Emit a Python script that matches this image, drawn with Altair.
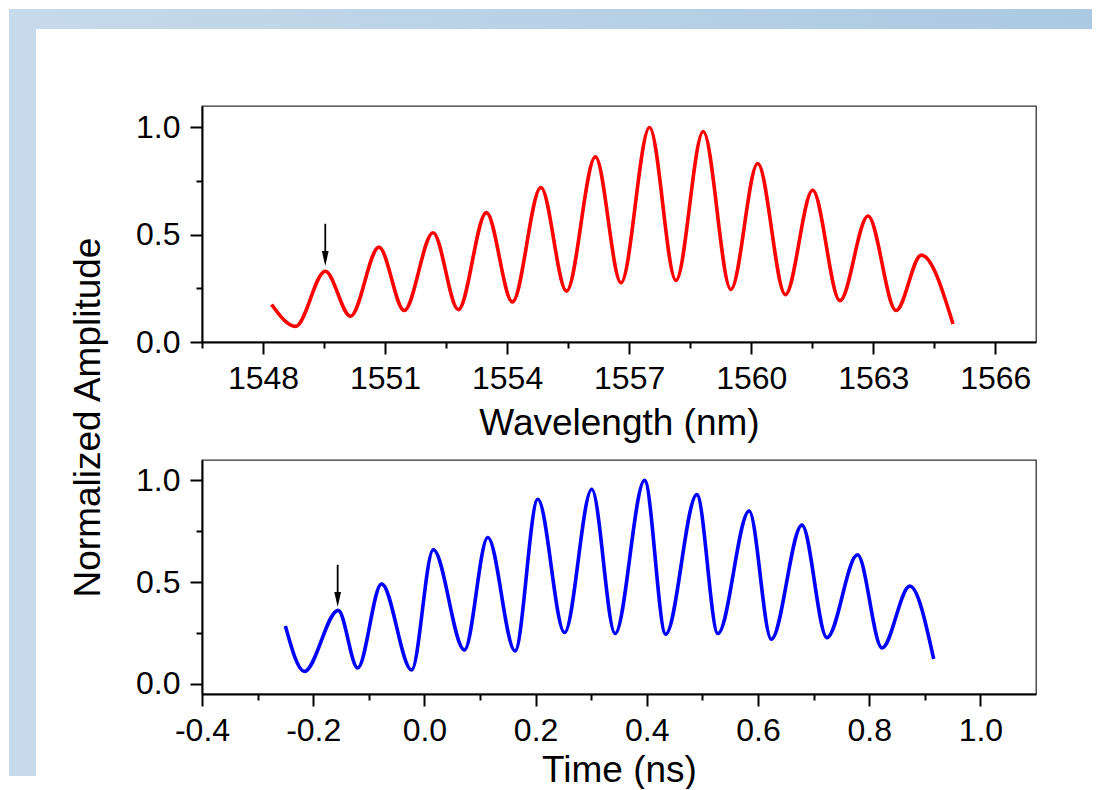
import altair as alt
import pandas as pd

# ---------------- data ----------------
# Top panel: optical spectrum (extrema + end points of the trace)
wl_nm = [1548.21, 1548.80, 1549.53, 1550.15, 1550.85, 1551.47, 1552.18, 1552.80,
         1553.49, 1554.13, 1554.83, 1555.46, 1556.17, 1556.80, 1557.50, 1558.15,
         1558.82, 1559.50, 1560.16, 1560.84, 1561.51, 1562.18, 1562.87, 1563.56,
         1564.18, 1564.96]
wl_amp = [0.175, 0.073, 0.330, 0.120, 0.442, 0.147, 0.509, 0.151,
          0.603, 0.187, 0.720, 0.237, 0.863, 0.276, 1.000, 0.287,
          0.981, 0.245, 0.832, 0.221, 0.707, 0.193, 0.587, 0.147,
          0.405, 0.084]

# Bottom panel: temporal waveform (extrema + end points of the trace)
t_ns = [-0.250, -0.216, -0.155, -0.120, -0.077, -0.023, 0.016, 0.072,
        0.114, 0.163, 0.204, 0.252, 0.301, 0.343, 0.396, 0.434,
        0.490, 0.528, 0.584, 0.624, 0.679, 0.724, 0.779, 0.823,
        0.873, 0.916]
t_amp = [0.284, 0.061, 0.361, 0.078, 0.491, 0.068, 0.659, 0.166,
         0.719, 0.162, 0.907, 0.252, 0.956, 0.247, 1.000, 0.244,
         0.930, 0.247, 0.849, 0.219, 0.780, 0.227, 0.634, 0.176,
         0.480, 0.122]

# Arrow annotations (data coordinates)
arrow_top_x = [1549.53]
arrow_top_from = [0.551]
arrow_top_to = [0.389]
arrow_bot_x = [-0.156]
arrow_bot_from = [0.585]
arrow_bot_to = [0.414]

# Ticks
x_ticks_top = [1546.5, 1548, 1549.5, 1551, 1552.5, 1554, 1555.5, 1557, 1558.5,
               1560, 1561.5, 1563, 1564.5, 1566]
x_ticks_bot = [-0.4, -0.3, -0.2, -0.1, 0.0, 0.1, 0.2, 0.3, 0.4, 0.5, 0.6, 0.7,
               0.8, 0.9, 1.0]
y_ticks = [0.0, 0.25, 0.5, 0.75, 1.0]

FONT = "Liberation Sans, Arial, sans-serif"
W = 834
H_TOP = 236
H_BOT = 234

df_top = pd.DataFrame({"x": wl_nm, "y": wl_amp})
df_bot = pd.DataFrame({"x": t_ns, "y": t_amp})
arr_top = pd.DataFrame({"x": arrow_top_x, "y": arrow_top_from, "y2": arrow_top_to})
arr_bot = pd.DataFrame({"x": arrow_bot_x, "y": arrow_bot_from, "y2": arrow_bot_to})
bg = pd.DataFrame({"k": [0]})

y_major = "round(datum.value*4) % 2 == 0"


def y_axis(title=None):
    kw = dict(
        values=y_ticks,
        labelExpr="(" + y_major + ") ? format(datum.value, '.1f') : ''",
        tickSize={"condition": {"test": y_major, "value": 12}, "value": 6},
        labelPadding=10,
        labelFlush=False,
        labelOverlap=False,
        zindex=1,
    )
    if title:
        kw.update(title=title, titleX=-114, titleY=311, titleAngle=270,
                  titleAlign="center", titleBaseline="middle")
    else:
        kw.update(title=None)
    return alt.Axis(**kw)


top_major = "datum.value % 3 == 0"
x_axis_top = alt.Axis(
    values=x_ticks_top,
    labelExpr="(" + top_major + ") ? format(datum.value, 'd') : ''",
    tickSize={"condition": {"test": top_major, "value": 12}, "value": 6},
    labelPadding=9, labelFlush=False, labelOverlap=False, zindex=1,
    title="Wavelength (nm)", titleY=81, titleBaseline="middle",
)

bot_major = "round(datum.value*10) % 2 == 0"
x_axis_bot = alt.Axis(
    values=x_ticks_bot,
    labelExpr="(" + bot_major + ") ? replace(format(datum.value, '.1f'), '\u2212', '-') : ''",
    tickSize={"condition": {"test": bot_major, "value": 12}, "value": 6},
    labelPadding=9, labelFlush=False, labelOverlap=False, zindex=1,
    title="Time (ns)", titleY=76, titleBaseline="middle",
)

y_axis_top = y_axis("Normalized Amplitude")
y_axis_bot = y_axis(None)

# Blue frame of the slide around the white figure area (decoration only)
grad = alt.LinearGradient(
    gradient="linear",
    stops=[alt.GradientStop(color="#c6daeb", offset=0),
           alt.GradientStop(color="#abc9e2", offset=1)],
    x1=0, x2=1, y1=0, y2=0,
)
band_top = alt.Chart(bg).mark_rect(color=grad).encode(
    x=alt.value(-193), x2=alt.value(890), y=alt.value(-97), y2=alt.value(-77))
band_left = alt.Chart(bg).mark_rect(color="#c6daeb").encode(
    x=alt.value(-193), x2=alt.value(-166), y=alt.value(-77), y2=alt.value(670))

arrow_shape = "M-0.45,-1L0.45,-1L0,1Z"

# ---------------- top panel ----------------
sx_top = alt.Scale(domain=[1546.5, 1567], nice=False, zero=False)
sy_top = alt.Scale(domain=[0, 1.1], nice=False, zero=False)

line_top = alt.Chart(df_top).mark_line(
    color="#ff0000", strokeWidth=3.6, interpolate="monotone"
).encode(
    x=alt.X("x:Q", scale=sx_top, axis=x_axis_top),
    y=alt.Y("y:Q", scale=sy_top, axis=y_axis_top),
)
rule_top = alt.Chart(arr_top).mark_rule(color="black", strokeWidth=1.8).encode(
    x=alt.X("x:Q", scale=sx_top, axis=x_axis_top),
    y=alt.Y("y:Q", scale=sy_top, axis=y_axis_top),
    y2="y2:Q")
head_top = alt.Chart(arr_top).mark_point(
    shape=arrow_shape, filled=True, size=225, color="black", opacity=1, strokeWidth=0
).encode(
    x=alt.X("x:Q", scale=sx_top, axis=x_axis_top),
    y=alt.Y("y2:Q", scale=sy_top, axis=y_axis_top))

top = alt.layer(band_top, band_left, line_top, rule_top, head_top).properties(
    width=W, height=H_TOP)

# ---------------- bottom panel ----------------
sx_bot = alt.Scale(domain=[-0.4, 1.1], nice=False, zero=False)
sy_bot = alt.Scale(domain=[-0.05, 1.1], nice=False, zero=False)

line_bot = alt.Chart(df_bot).mark_line(
    color="#0000ff", strokeWidth=3.6, interpolate="monotone"
).encode(
    x=alt.X("x:Q", scale=sx_bot, axis=x_axis_bot),
    y=alt.Y("y:Q", scale=sy_bot, axis=y_axis_bot),
)
rule_bot = alt.Chart(arr_bot).mark_rule(color="black", strokeWidth=1.8).encode(
    x=alt.X("x:Q", scale=sx_bot, axis=x_axis_bot),
    y=alt.Y("y:Q", scale=sy_bot, axis=y_axis_bot),
    y2="y2:Q")
head_bot = alt.Chart(arr_bot).mark_point(
    shape=arrow_shape, filled=True, size=225, color="black", opacity=1, strokeWidth=0
).encode(
    x=alt.X("x:Q", scale=sx_bot, axis=x_axis_bot),
    y=alt.Y("y2:Q", scale=sy_bot, axis=y_axis_bot))

bottom = alt.layer(line_bot, rule_bot, head_bot).properties(width=W, height=H_BOT)

chart = alt.vconcat(top, bottom, spacing=118, bounds="flush").properties(
    padding=0, background="white"
).configure_view(
    stroke="#333333", strokeWidth=1.3
).configure_axis(
    grid=False,
    domainColor="black", domainWidth=2,
    tickColor="black", tickWidth=2,
    labelFont=FONT, labelFontSize=32, labelColor="black",
    titleFont=FONT, titleFontSize=37, titleFontWeight="normal", titleColor="black",
)

chart.save("out.html", embed_options={"renderer": "svg", "actions": False})
